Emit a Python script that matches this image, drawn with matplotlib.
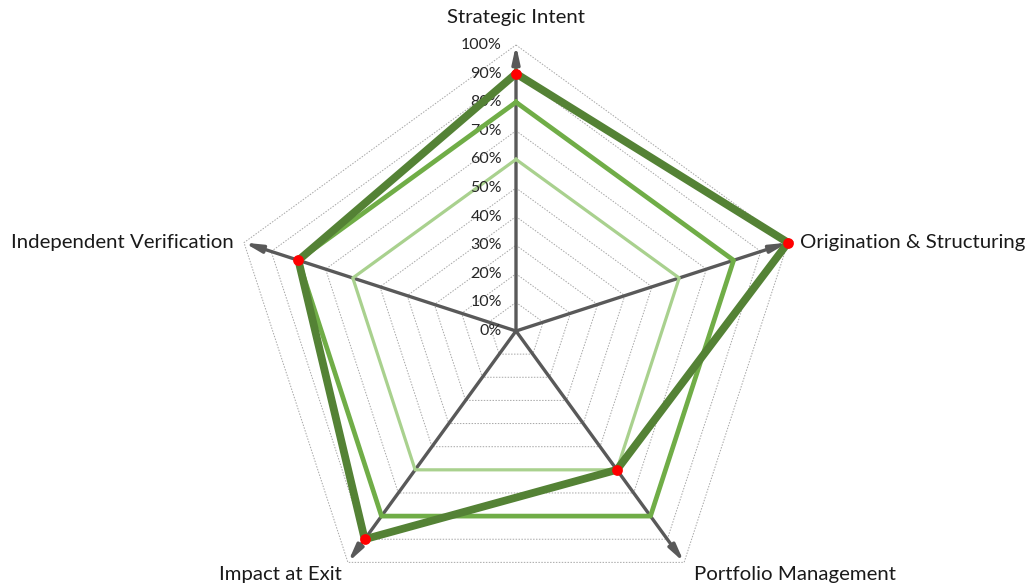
import numpy as np
import matplotlib.pyplot as plt

plt.rcParams['font.family'] = ['Lato', 'DejaVu Sans']

categories = ['Strategic Intent', 'Origination & Structuring', 'Portfolio Management',
              'Impact at Exit', 'Independent Verification']
light = [60, 60, 60, 60, 60]
medium = [80, 80, 80, 80, 80]
dark = [90, 100, 60, 90, 80]
ticks = [0, 10, 20, 30, 40, 50, 60, 70, 80, 90, 100]

# angles: first axis straight up, going clockwise
ang = np.pi / 2 - np.arange(len(categories)) * 2 * np.pi / len(categories)


def xy(vals):
    r = np.array(vals + vals[:1]) / 100.0
    a = np.append(ang, ang[0])
    return r * np.cos(a), r * np.sin(a)


W, H = 1029, 585
cx, cy, R = 516, 331, 286
fig = plt.figure(figsize=(W / 100, H / 100), dpi=100)
ax = fig.add_axes([0, 0, 1, 1])
ax.set_xlim(-cx / R, (W - cx) / R)
ax.set_ylim(-(H - cy) / R, cy / R)
ax.axis('off')

# pentagon grid
for t in ticks[1:]:
    gx, gy = xy([t] * len(categories))
    ax.plot(gx, gy, color='#a6a6a6', lw=0.7, ls=(0, (1.5, 1.5)), zorder=1)

# axes with arrows
for a in ang:
    ax.annotate('', xy=(np.cos(a), np.sin(a)), xytext=(0, 0),
                arrowprops=dict(arrowstyle='-|>,head_length=1.0,head_width=0.22',
                                color='#595959', lw=2.4, shrinkA=0, shrinkB=0),
                zorder=2)

# series
lx, ly = xy(light)
ax.plot(lx, ly, color='#a9d18e', lw=2.3, zorder=3)
mx, my = xy(medium)
ax.plot(mx, my, color='#70ad47', lw=3.4, zorder=4)
dx, dy = xy(dark)
ax.plot(dx, dy, color='#548235', lw=5.6, zorder=5, solid_joinstyle='miter')
ax.scatter(dx[:-1], dy[:-1], s=60, color='#ff0000', zorder=6, linewidths=0)

# radial tick labels
for t in ticks:
    ax.annotate(f'{t}%', xy=(0, t / 100), xytext=(-14, 0), textcoords='offset pixels',
                ha='right', va='center', fontsize=11.5, color='#262626')

# category labels
offs = [(0, 27, 'center', 'center'), (12, 0, 'left', 'center'), (10, -12, 'left', 'center'),
        (-6, -12, 'right', 'center'), (-10, 0, 'right', 'center')]
for c, a, (ox, oy, ha, va) in zip(categories, ang, offs):
    ax.annotate(c, xy=(np.cos(a), np.sin(a)), xytext=(ox, oy), textcoords='offset pixels',
                ha=ha, va=va, fontsize=14.7, color='#1a1a1a')

fig.savefig('out.png', dpi=100)
